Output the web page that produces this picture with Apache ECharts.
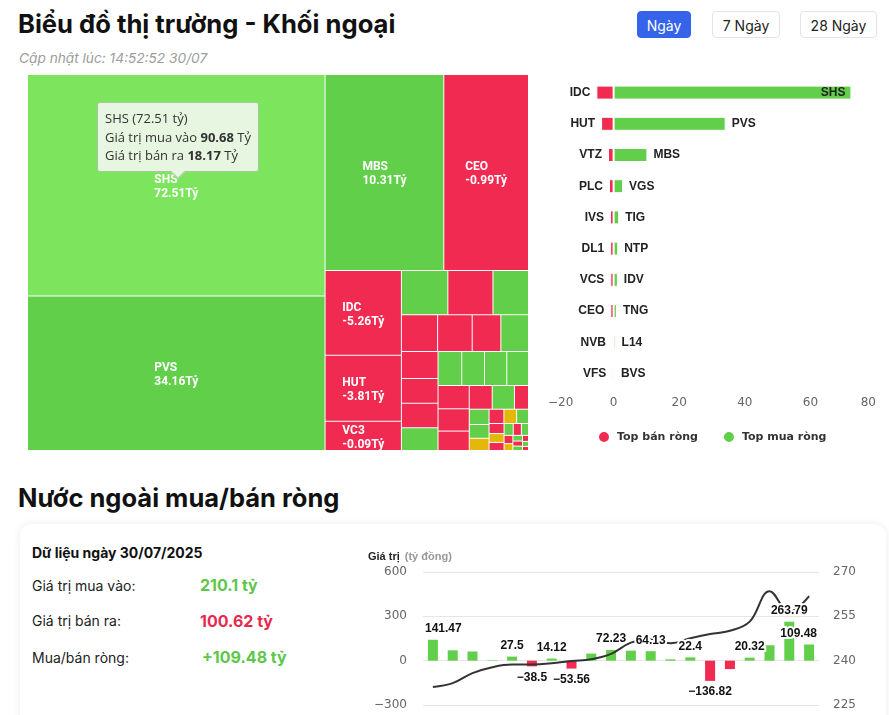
<!DOCTYPE html>
<html><head><meta charset="utf-8">
<script src="https://cdn.jsdelivr.net/npm/echarts@6/dist/echarts.min.js"></script>
<style>
html,body{margin:0;padding:0;background:#fff;width:889px;height:715px;overflow:hidden;font-family:Inter,'Noto Sans',sans-serif;}
.abs{position:absolute;white-space:nowrap;}
#title{left:18px;top:11px;font-size:25.6px;line-height:26px;font-weight:700;color:#111;}
#sub{left:19px;top:51px;font-size:13.7px;line-height:15px;font-style:italic;color:#9c9c9c;}
.btn{position:absolute;top:11px;height:27px;line-height:27px;font-size:14px;text-align:center;border-radius:4px;box-sizing:border-box;color:#222;background:#fff;border:1px solid #e4e4e4;}
.btn.on{background:#3563e9;color:#fff;border-color:#3563e9;}
#h2{left:18px;top:485px;font-size:25.5px;line-height:25.5px;font-weight:700;color:#111;}
#card{left:20px;top:524px;width:866px;height:240px;border-radius:12px;background:#fff;box-shadow:0 0 8px rgba(0,0,0,0.08);}
#infoDate{left:32px;top:543px;font-size:14px;line-height:20px;font-weight:700;color:#111;}
.lbl{position:absolute;left:32px;font-size:14px;line-height:20px;color:#222;}
.val{position:absolute;left:200px;font-size:16px;line-height:20px;font-weight:700;}
</style></head>
<body>
<div id="title" class="abs">Biểu đồ thị trường - Khối ngoại</div>
<div id="sub" class="abs">Cập nhật lúc: 14:52:52 30/07</div>
<div class="btn on" style="left:637px;width:54px;">Ngày</div>
<div class="btn" style="left:712px;width:68px;">7 Ngày</div>
<div class="btn" style="left:800px;width:77px;">28 Ngày</div>
<div id="tree" class="abs" style="left:28px;top:75px;width:500px;height:375px;"></div>
<div id="top" class="abs" style="left:540px;top:70px;width:349px;height:390px;"></div>
<div id="h2" class="abs">Nước ngoài mua/bán ròng</div>
<div id="card" class="abs"></div>
<div id="infoDate" class="abs"></div>
<div class="lbl" style="top:576px;">Giá trị mua vào:</div>
<div class="val" id="vBuy" style="top:575px;color:#5cc74a;"></div>
<div class="lbl" style="top:611px;">Giá trị bán ra:</div>
<div class="val" id="vSell" style="top:611px;color:#e8294f;"></div>
<div class="lbl" style="top:648px;">Mua/bán ròng:</div>
<div class="val" id="vNet" style="top:647px;left:202px;color:#5cc74a;"></div>
<div id="flow" class="abs" style="left:340px;top:540px;width:549px;height:200px;"></div>
<script>
// ---------------- data ----------------
// Treemap: ticker, total traded value (buy + sell, tỷ) used as size, net value (buy - sell)
const treemapNames = ['SHS','PVS','MBS','CEO','IDC','HUT','VC3','VGS','VTZ','TIG','PLC','IVS','DL1','NTP','VCS','NVB','VFS','IDV','TNG','L14','BVS',
  '','','','','','','','','','','','','','','','','','','','','','','','','','',''];
const treemapTotal = [108.85,75.9,38.4,27.4,10.7,8.3,3.7,3.4,3.3,2.6,2.2,2.1,1.74,1.68,1.64,1.49,1.48,1.38,1.33,1.28,1.25,
  1.22,1.2,1.15,1.0,0.9,0.87,0.55,0.5,0.45,0.4,0.35,0.3,0.28,0.25,0.22,0.2,0.18,0.16,0.14,0.12,0.1,0.09,0.08,0.07,0.06,0.05,0.04];
const treemapNet = [72.51,34.16,10.31,-0.99,-5.26,-3.81,-0.09,2.9,-1.7,1.7,-1.4,-1.1,-1.05,1.4,-1.0,-0.5,-0.4,1.3,1.0,0.6,0.4,
  0.3,-0.3,-0.35,-0.3,-0.25,0.2,-0.2,0.15,0.12,0,-0.1,0,0.08,-0.08,0,-0.05,0.05,-0.04,0.04,-0.03,0,0.02,-0.02,0.02,-0.01,0.01,-0.01];
const labeledCells = 7;      // cells that carry a text label
const hoveredCell = 0;       // cell under the tooltip (SHS)

// Top net sellers / buyers
const sellNames = ['IDC','HUT','VTZ','PLC','IVS','DL1','VCS','CEO','NVB','VFS'];
const sellValues = [-5.26,-3.81,-1.7,-1.4,-1.1,-1.05,-1.0,-0.99,-0.5,-0.4];
const buyNames = ['SHS','PVS','MBS','VGS','TIG','NTP','IDV','TNG','L14','BVS'];
const buyValues = [72.51,34.16,10.31,2.9,1.7,1.4,1.3,1.0,0.6,0.4];
const topAxisTicks = [-20, 0, 20, 40, 60, 80];

// Daily foreign net flow (tỷ đồng) and index level
const days = ['03/07','04/07','07/07','08/07','09/07','10/07','11/07','14/07','15/07','16/07','17/07','18/07','21/07','22/07','23/07','24/07','25/07','28/07','29/07','30/07'];
const netFlow = [141.47,70,62,3,27.5,-38.5,14.12,-53.56,48,72.23,68,64.13,9,22.4,-136.82,-57,20.32,104,263.79,109.48];
const indexLevel = [231.1,232.4,235.8,237.8,238.7,238.7,239.1,239.9,240.5,242.3,246.1,247.2,245.9,247.6,249.0,250.1,253.2,263.5,256.5,261.8];
const labeledDays = [0,4,5,6,7,9,11,13,14,16,18,19];
const leftTicks = [-300, 0, 300, 600];
const rightTicks = [225, 240, 255, 270];

const summary = { date: '30/07/2025', buy: 210.1, sell: 100.62, net: 109.48 };

// ---------------- styles ----------------
const GREEN = '#62cf4a', RED = '#f02a50', YELLOW = '#e4b80a', HOVER = '#7de45e';
const minus = s => String(s).replace('-', '\u2212');

document.getElementById('infoDate').textContent = 'Dữ liệu ngày ' + summary.date;
document.getElementById('vBuy').textContent = summary.buy + ' tỷ';
document.getElementById('vSell').textContent = summary.sell + ' tỷ';
document.getElementById('vNet').textContent = (summary.net >= 0 ? '+' : '') + summary.net + ' tỷ';

// ---------------- treemap ----------------
const treeChart = echarts.init(document.getElementById('tree'), null, {renderer: 'canvas'});
const TREE_FONT = 'bold 12px Roboto';
const TREE_LH = 14;
const measureCtx = document.createElement('canvas').getContext('2d');
measureCtx.font = TREE_FONT;
const treeData = treemapNames.map((n, i) => ({
  name: n, value: treemapTotal[i], idx: i,
  itemStyle: { color: i === hoveredCell ? HOVER : (treemapNet[i] > 0 ? GREEN : (treemapNet[i] < 0 ? RED : YELLOW)) }
}));
const TIP_BG = '#e6f6e1', TIP_BORDER = '#a9c79d';
treeChart.setOption({
  animation: false,
  tooltip: {
    trigger: 'item', triggerOn: 'none', alwaysShowContent: true, transitionDuration: 0,
    backgroundColor: TIP_BG, borderColor: TIP_BORDER, borderWidth: 1, padding: [6, 7],
    extraCssText: 'box-shadow:none;border-radius:3px;',
    textStyle: { fontFamily: 'Open Sans', fontSize: 13, color: '#333' },
    position: function () { return [69, 27]; },
    formatter: function (p) {
      const i = p.data.idx;
      const buy = ((treemapTotal[i] + treemapNet[i]) / 2).toFixed(2);
      const sell = ((treemapTotal[i] - treemapNet[i]) / 2).toFixed(2);
      return '<div style="line-height:18.5px">' + p.name + ' (' + treemapNet[i].toFixed(2) + ' tỷ)<br/>' +
        'Giá trị mua vào <b>' + buy + '</b> Tỷ<br/>Giá trị bán ra <b>' + sell + '</b> Tỷ</div>' +
        '<div style="position:absolute;left:50%;bottom:-6px;width:9px;height:9px;margin-left:-5px;background:' + TIP_BG +
        ';border-right:1px solid ' + TIP_BORDER + ';border-bottom:1px solid ' + TIP_BORDER + ';transform:rotate(45deg);"></div>';
    }
  },
  series: [{
    type: 'treemap', left: 0, top: 0, width: '100%', height: '100%',
    roam: false, nodeClick: false, breadcrumb: { show: false },
    squareRatio: 1.38, visibleMin: 0, childrenVisibleMin: 0,
    itemStyle: { borderWidth: 0, gapWidth: 1, borderColor: '#fff' },
    levels: [{ itemStyle: { borderWidth: 0, gapWidth: 1, borderColor: '#fff' } }],
    upperLabel: { show: false },
    emphasis: { disabled: true },
    label: {
      show: true, position: 'inside', padding: 0, align: 'left',
      color: '#fff', fontSize: 12, fontWeight: 'bold', fontFamily: 'Roboto', lineHeight: TREE_LH,
      formatter: function (p) {
        const i = p.data.idx;
        return i < labeledCells ? p.name + '\n' + treemapNet[i].toFixed(2) + 'Tỷ' : '';
      }
    },
    // centre the (left-aligned) two-line label block inside its cell
    labelLayout: function (p) {
      if (!p.text) return {};
      const lines = p.text.split('\n');
      const w = Math.max.apply(null, lines.map(l => measureCtx.measureText(l).width));
      const h = lines.length * TREE_LH;
      return { x: p.rect.x + p.rect.width / 2 - w / 2, y: p.rect.y + p.rect.height / 2 - h / 2 + 2, align: 'left', verticalAlign: 'top' };
    },
    data: treeData
  }]
});
treeChart.dispatchAction({ type: 'showTip', x: 150, y: 110 });

// ---------------- top buyers / sellers ----------------
const topChart = echarts.init(document.getElementById('top'));
const nameLabel = { fontSize: 12, fontWeight: 'bold', color: '#222', fontFamily: 'Liberation Sans', distance: 6 };
topChart.setOption({
  animation: false,
  grid: { left: 8, right: 13, top: 7, bottom: 71, outerBoundsMode: 'none' },
  legend: {
    left: 57, top: 360, padding: 0, icon: 'circle', itemWidth: 12, itemHeight: 12, itemGap: 24,
    textStyle: { fontSize: 11, fontWeight: 'bold', color: '#333', fontFamily: 'DejaVu Sans', padding: [0, 0, 0, 2] },
    data: ['Top bán ròng', 'Top mua ròng']
  },
  xAxis: {
    type: 'value', min: topAxisTicks[0], max: topAxisTicks[topAxisTicks.length - 1], interval: topAxisTicks[1] - topAxisTicks[0],
    axisLine: { show: false }, axisTick: { show: false }, splitLine: { show: false },
    axisLabel: { color: '#666', fontSize: 12, fontFamily: 'DejaVu Sans', margin: 8, formatter: minus, alignMinLabel: 'left', alignMaxLabel: 'right' }
  },
  yAxis: { type: 'category', inverse: true, data: buyNames, show: false },
  series: [
    { name: 'Top bán ròng', type: 'bar', data: sellValues, barWidth: 14, barGap: '-100%', color: RED,
      itemStyle: { color: RED, borderColor: '#fff', borderWidth: 1 },
      label: Object.assign({ show: true, position: 'left', formatter: p => sellNames[p.dataIndex] }, nameLabel) },
    { name: 'Top mua ròng', type: 'bar', barWidth: 14, barGap: '-100%', color: GREEN,
      data: buyValues.map(v => ({ value: v, label: { position: v > 60 ? 'insideRight' : 'right' } })),
      itemStyle: { color: GREEN, borderColor: '#fff', borderWidth: 1 },
      label: Object.assign({ show: true, position: 'right', formatter: p => buyNames[p.dataIndex] }, nameLabel) }
  ]
});

// ---------------- net flow chart ----------------
const flowEl = document.getElementById('flow');
const flowChart = echarts.init(flowEl);
const FLOW_GRID = { left: 83, right: 70, top: 32, bottom: 35 };
const plotL = FLOW_GRID.left, plotR = flowEl.clientWidth - FLOW_GRID.right;
const flowLabel = { fontSize: 12, fontWeight: 'bold', color: '#111', fontFamily: 'Liberation Sans', textBorderColor: '#fff', textBorderWidth: 4, distance: 5 };
flowChart.setOption({
  animation: false,
  title: {
    text: '{b|Giá trị} {g|(tỷ đồng)}', left: 28, top: 8, padding: 0,
    textStyle: { rich: {
      b: { fontSize: 11, fontWeight: 'bold', color: '#222', fontFamily: 'Liberation Sans' },
      g: { fontSize: 11, color: '#999', fontFamily: 'Liberation Sans' } } }
  },
  grid: Object.assign({ outerBoundsMode: 'none' }, FLOW_GRID),
  xAxis: { type: 'category', data: days, axisLine: { show: false }, axisTick: { show: false }, axisLabel: { show: false } },
  yAxis: [
    { type: 'value', min: leftTicks[0], max: leftTicks[leftTicks.length - 1], interval: leftTicks[1] - leftTicks[0],
      axisLine: { show: false }, axisTick: { show: false },
      splitLine: { lineStyle: { color: '#e6e6e6' } },
      axisLabel: { color: '#666', fontSize: 12, fontFamily: 'DejaVu Sans', margin: 16, formatter: minus } },
    { type: 'value', min: rightTicks[0], max: rightTicks[rightTicks.length - 1], interval: rightTicks[1] - rightTicks[0],
      axisLine: { show: false }, axisTick: { show: false }, splitLine: { show: false },
      axisLabel: { color: '#666', fontSize: 12, fontFamily: 'DejaVu Sans', margin: 14 } }
  ],
  series: [
    { type: 'bar', z: 1, barWidth: 10, data: netFlow.map(v => ({ value: v, itemStyle: { color: v >= 0 ? GREEN : RED } })) },
    { type: 'line', z: 2, yAxisIndex: 1, data: indexLevel, smooth: 0.4, symbol: 'none', lineStyle: { color: '#333', width: 2 } },
    { type: 'bar', z: 10, barWidth: 10, barGap: '-100%', silent: true,
      data: netFlow.map((v, i) => ({ value: v, label: { show: labeledDays.indexOf(i) >= 0, position: v >= 0 ? 'top' : 'bottom' } })),
      itemStyle: { color: 'rgba(0,0,0,0)' },
      label: Object.assign({ formatter: p => minus(p.value) }, flowLabel),
      // keep data labels inside the plot area
      labelLayout: function (p) {
        const r = p.labelRect;
        if (r.x < plotL) return { dx: plotL - r.x };
        if (r.x + r.width > plotR) return { dx: plotR - (r.x + r.width) };
        return {};
      } }
  ]
});
</script>
</body></html>
